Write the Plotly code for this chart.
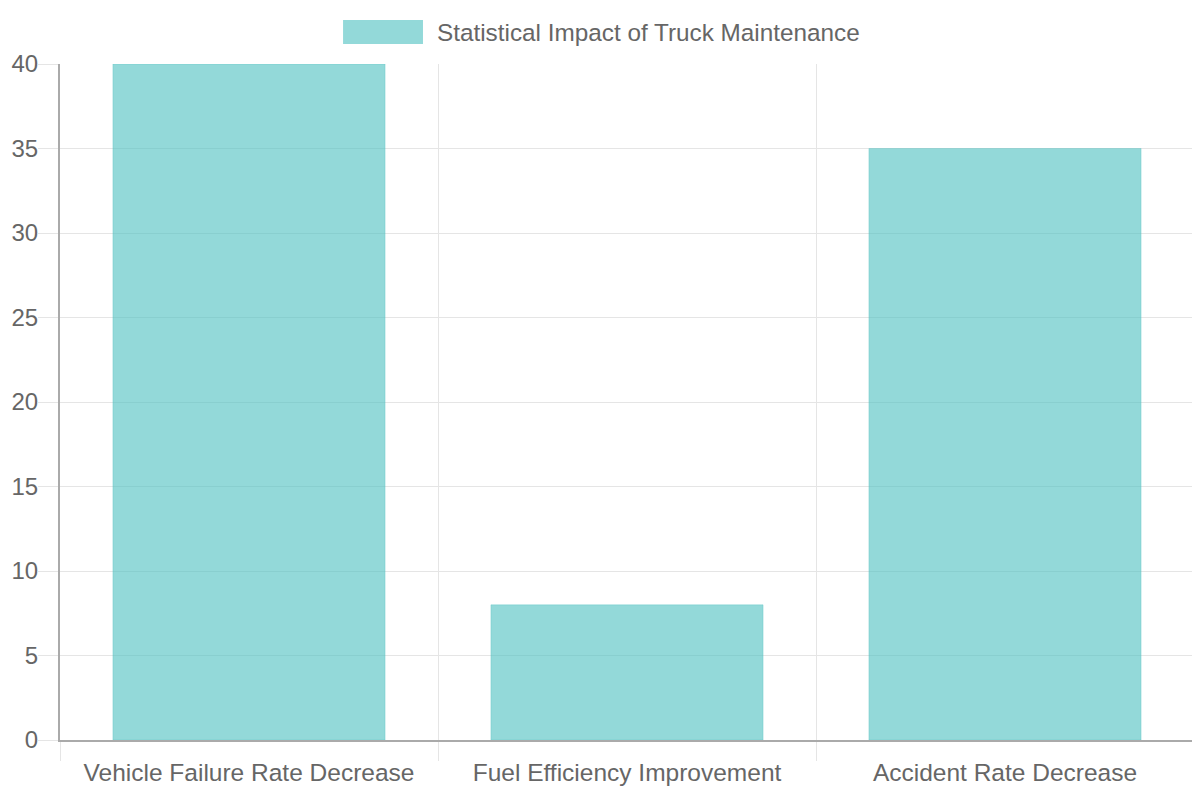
import plotly.graph_objects as go

# data
categories = ["Vehicle Failure Rate Decrease", "Fuel Efficiency Improvement", "Accident Rate Decrease"]
values = [40, 8, 35]
series_name = "Statistical Impact of Truck Maintenance"
y_ticks = [0, 5, 10, 15, 20, 25, 30, 35, 40]

FILL = "rgba(75,192,192,0.6)"
TEXT = "#666666"
GRID = "#e5e5e5"
AXIS = "#aaaaaa"

fig = go.Figure(
    data=go.Bar(
        x=categories,
        y=values,
        name=series_name,
        width=0.72,
        marker=dict(color=FILL, line=dict(width=1, color="rgba(75,192,192,0.3)")),
        hoverinfo="x+y",
    )
)

# legend drawn chart.js style (wide swatch box + label)
fig.add_shape(
    type="rect", xref="paper", yref="paper",
    x0=0.2496, x1=0.3201, y0=1.0296, y1=1.0651,
    fillcolor=FILL, line=dict(width=0),
)
fig.add_annotation(
    xref="paper", yref="paper", x=0.3307, y=1.0473,
    xanchor="left", yanchor="middle", showarrow=False,
    text=series_name, font=dict(size=24.3, color=TEXT),
)

# page body adds an 8px offset, margins compensate for it
fig.update_layout(
    width=1200,
    height=800,
    margin=dict(l=52, r=14, t=56, b=68),
    plot_bgcolor="white",
    paper_bgcolor="white",
    showlegend=False,
    font=dict(family="Liberation Sans, Arial, sans-serif", size=24, color=TEXT),
    bargap=0.28,
)

fig.update_xaxes(
    type="category",
    automargin=False,
    tickson="boundaries",
    showgrid=True, gridcolor=GRID, gridwidth=1,
    ticks="outside", ticklen=19, tickcolor=GRID,
    ticklabelstandoff=10,
    showline=True, linecolor=AXIS, linewidth=2,
    tickfont=dict(size=24.5, color=TEXT),
)
fig.update_yaxes(
    range=[0, 40],
    automargin=False,
    tickvals=y_ticks,
    showgrid=True, gridcolor=GRID, gridwidth=1,
    zeroline=False,
    ticks="outside", ticklen=20, tickcolor=GRID,
    ticklabelstandoff=-5,
    showline=True, linecolor=AXIS, linewidth=2,
    tickfont=dict(size=24, color=TEXT),
)

fig.write_html("out.html")
